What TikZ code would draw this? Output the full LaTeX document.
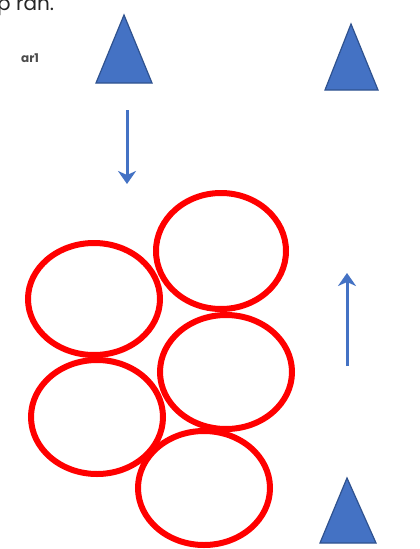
\documentclass[tikz,border=0pt]{standalone}
\usepackage{fontspec}
\setmainfont{Poppins}
\usetikzlibrary{arrows.meta}
\definecolor{triblue}{HTML}{4472C4}
\definecolor{triedge}{HTML}{2F528F}
\definecolor{ringred}{HTML}{FF0000}
\begin{document}
\begin{tikzpicture}[x=1pt,y=-1pt,
  tri/.style={fill=triblue,draw=triedge,line width=1.2pt,line join=miter},
  ring/.style={draw=ringred,line width=6pt},
  bluearrow/.style={draw=triblue,line width=3pt,-{Stealth[width=18pt,length=13pt,inset=4pt]}}]
\useasboundingbox (0,0) rectangle (420,549);
\clip (0,0) rectangle (420,549);
\fill[white] (0,0) rectangle (420,549);
% cropped title text
\node[anchor=base west,inner sep=0pt,font=\fontsize{20}{24}\selectfont,text=black!85] (title) at (-3,10) {p ran.};
\node[anchor=base west,inner sep=0pt,font=\fontsize{12}{14}\selectfont\bfseries,text=black!70] (lbl) at (21,62) {ar1};
% triangles
\draw[tri] (96,83) -- (124,15) -- (152,83) -- cycle;
\draw[tri] (325,90) -- (351,24) -- (378,90) -- cycle;
\draw[tri] (320,543) -- (347,478) -- (376,543) -- cycle;
% arrows
\coordinate (d1) at (127,110);
\coordinate (d2) at (127,184);
\draw[bluearrow] (d1) -- (d2);
\coordinate (u1) at (347,366);
\coordinate (u2) at (347,273);
\draw[bluearrow] (u1) -- (u2);
% rings
\draw[ring] (221,251) ellipse [x radius=65, y radius=58];
\draw[ring] (94,299) ellipse [x radius=66, y radius=56];
\draw[ring] (226,372) ellipse [x radius=66, y radius=57];
\draw[ring] (97,417) ellipse [x radius=66, y radius=57];
\draw[ring] (204,488) ellipse [x radius=66, y radius=57];
\end{tikzpicture}
\end{document}
